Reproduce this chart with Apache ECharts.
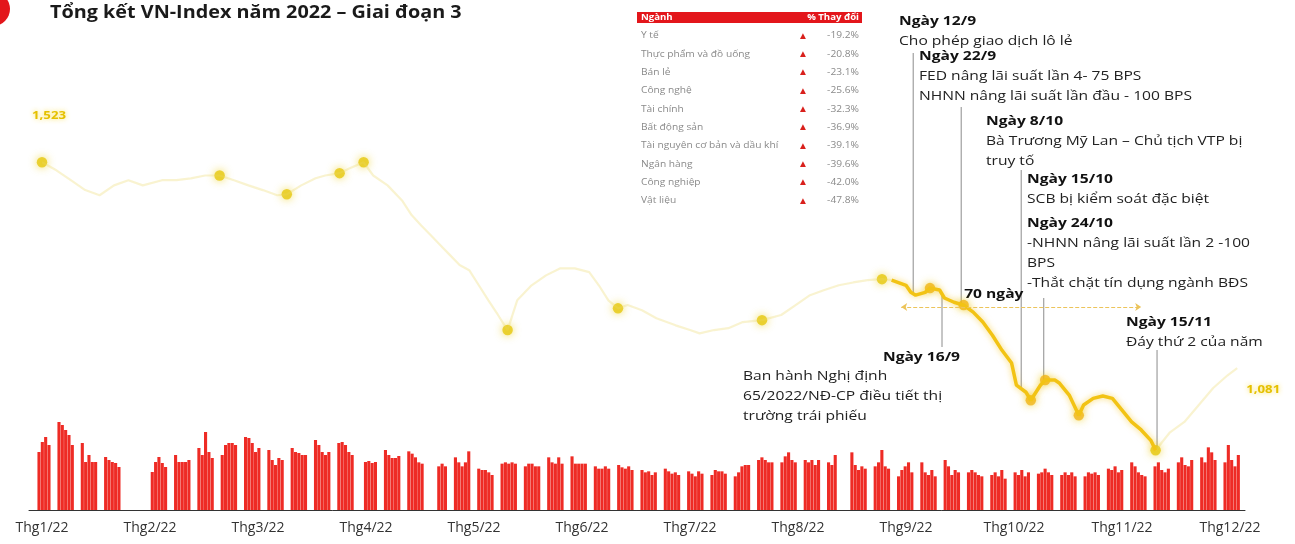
<!DOCTYPE html>
<html><head><meta charset="utf-8">
<script src="https://cdn.jsdelivr.net/npm/echarts@6/dist/echarts.min.js"></script>
<style>html,body{margin:0;padding:0;background:#fff}#chart{width:1295px;height:544px}</style>
</head><body><div id="chart"></div>
<script>
// ---------------- DATA ----------------
const titleText = 'Tổng kết VN-Index năm 2022 – Giai đoạn 3';
const monthLabels = ['Thg1/22','Thg2/22','Thg3/22','Thg4/22','Thg5/22','Thg6/22','Thg7/22','Thg8/22','Thg9/22','Thg10/22','Thg11/22','Thg12/22'];
const holidays = ['2022-01-03','2022-01-31','2022-02-01','2022-02-02','2022-02-03','2022-02-04','2022-04-11','2022-05-02','2022-05-03','2022-09-01','2022-09-02'];
// daily matched volume (million shares), one per trading day
const volumes = [
 870,1020,1095,975,
 1320,1275,1200,1125,975,
 1005,720,825,720,720,
 795,750,720,705,645,
 570,720,795,705,645,
 825,720,720,720,750,
 930,825,1170,870,780,
 825,975,1005,1005,975,
 1095,1080,1005,870,930,
 900,750,675,780,750,
 930,870,855,825,825,
 1050,975,870,825,870,
 1005,1020,975,870,825,
 720,735,705,720,
 900,825,780,780,810,
 880,845,790,715,695,
 655,695,655,
 790,715,655,715,880,
 620,600,600,565,525,
 695,715,695,715,695,
 655,695,695,655,655,
 790,715,695,790,695,
 805,695,695,695,695,
 655,620,620,655,620,
 675,640,620,655,600,
 600,565,580,525,565,
 620,580,545,565,525,
 580,545,505,580,545,
 525,600,580,580,545,
 505,565,655,675,675,
 750,790,750,715,715,
 715,805,865,750,715,
 750,715,750,675,750,
 715,675,825,
 865,675,600,655,620,
 655,715,900,655,620,
 505,600,655,715,565,
 715,565,525,600,505,
 750,655,525,600,565,
 565,600,565,525,505,
 525,565,505,600,470,
 565,525,600,505,565,
 545,565,620,565,525,
 525,565,525,565,505,
 505,565,545,565,525,
 620,600,655,565,600,
 715,655,565,525,505,
 655,715,600,565,620,
 715,790,675,655,750,
 790,715,940,865,750,
 715,975,750,655,825
];
// VN-Index path (session number, index points)
const lineSessions = [0,3,6,9,12,15,18,21,25,28,31,34,37,40,43,46,49,51,54,57,59,62,64,67,69,72,75,77,79,81,83,85,87,89,91,93,95,97,99,102,105,108,111,114,116,118,120,122,125,128,132,135,137,140,143,146,150,154,157,160,163,166,169,172,175,
 177,180,181,182,184,185,187,188,190,192,194,196,198,200,202,203,205,206,208,209,211,212,214,216,217,219,221,223,225,227,229,231,232,
 235,238,241,244,247,249];
const lineValues = [1523,1506,1485,1464,1453,1474,1485,1474,1485,1485,1489,1495,1495,1485,1474,1464,1453,1455,1474,1489,1495,1500,1510,1523,1495,1474,1442,1411,1389,1368,1347,1326,1305,1294,1262,1230,1199,1167,1230,1262,1283,1298,1298,1290,1262,1230,1213,1220,1209,1192,1177,1167,1160,1167,1171,1184,1188,1199,1220,1241,1252,1262,1268,1273,1275,
 1273,1262,1247,1241,1247,1256,1252,1235,1226,1220,1205,1184,1156,1124,1097,1050,1035,1018,1050,1061,1061,1054,1029,986,1008,1022,1027,1022,997,972,955,933,912,
 950,972,1008,1044,1071,1086];
const dotSessions = [0,37,51,62,67,97,120,150,175,185,192,206,209,216,232];
const stage3Start = 177, stage3End = 232;
const firstValueLabel = '1,523', lastValueLabel = '1,081';
const seventyDays = {start:179, end:229, level:1216, label:'70 ngày'};
const sectorHeader = ['Ngành', '% Thay đổi'];
const sectorNames = ['Y tế','Thực phẩm và đồ uống','Bán lẻ','Công nghệ','Tài chính','Bất động sản','Tài nguyên cơ bản và dầu khí','Ngân hàng','Công nghiệp','Vật liệu'];
const sectorChanges = ['-19.2%','-20.8%','-23.1%','-25.6%','-32.3%','-36.9%','-39.1%','-39.6%','-42.0%','-47.8%'];
const events = [
 {session:181.5, date:'Ngày 12/9', text:['Cho phép giao dịch lô lẻ']},
 {session:191.5, date:'Ngày 22/9', text:['FED nâng lãi suất lần 4- 75 BPS','NHNN nâng lãi suất lần đầu - 100 BPS']},
 {session:204, date:'Ngày 8/10', text:['Bà Trương Mỹ Lan – Chủ tịch VTP bị','truy tố']},
 {session:208.7, date:'Ngày 15/10', text:['SCB bị kiểm soát đặc biệt']},
 {session:208.7, date:'Ngày 24/10', text:['-NHNN nâng lãi suất lần 2 -100','BPS','-Thắt chặt tín dụng ngành BĐS']},
 {session:187.5, date:'Ngày 16/9', text:['Ban hành Nghị định','65/2022/NĐ-CP điều tiết thị','trường trái phiếu']},
 {session:232.3, date:'Ngày 15/11', text:['Đáy thứ 2 của năm']}
];
// ---------------- LAYOUT (pixels) ----------------
const FONT = "'Open Sans','Noto Sans',sans-serif";
const SX = 1.2; // the artwork's lettering is horizontally wide
const eventLayout = [
 {x:899, y:11, leaderFrom:53},
 {x:919, y:46, leaderFrom:107},
 {x:986, y:111, leaderFrom:170},
 {x:1027, y:169, leaderFrom:null},
 {x:1027, y:213, leaderFrom:298},
 {x:743, y:366, titleRight:960, titleY:347, leaderTo:347},
 {x:1126, y:312, leaderFrom:350}
];

function tradingDays(){
  const hs = new Set(holidays), out = [];
  for (let d = 0; d < 365; d++) {
    const dt = new Date(Date.UTC(2022, 0, 1 + d));
    const wd = dt.getUTCDay();
    if (wd > 0 && wd < 6 && !hs.has(dt.toISOString().slice(0,10))) out.push(d);
  }
  return out;
}
const days = tradingDays();
const barData = volumes.map((v, i) => [days[i], v]);
const pts = lineSessions.map((s, i) => [s, lineValues[i]]);
const seg = (lo, hi) => pts.filter(p => p[0] >= lo && p[0] <= hi);
const dotData = dotSessions.map(s => [s, lineValues[lineSessions.indexOf(s)]]);
function valueAt(s){
  for (let i = 0; i < lineSessions.length - 1; i++) {
    if (s >= lineSessions[i] && s <= lineSessions[i+1]) {
      const t = (s - lineSessions[i]) / (lineSessions[i+1] - lineSessions[i]);
      return lineValues[i] + t * (lineValues[i+1] - lineValues[i]);
    }
  }
  return lineValues[lineValues.length-1];
}

const chart = echarts.init(document.getElementById('chart'), null, {renderer:'canvas'});
const txt = (x, y, style) => ({type:'text', x:x, y:y, scaleX:SX, style:style});

const faded = {color:'rgba(236,214,98,0.3)', width:2.2};
const tableGraphics = [];
tableGraphics.push({type:'rect', shape:{x:637, y:12, width:225, height:11}, style:{fill:'#e3161b'}});
tableGraphics.push(txt(641, 17.5, {text:sectorHeader[0], fill:'#fff', font:'bold 8px '+FONT, textVerticalAlign:'middle'}));
tableGraphics.push(txt(859, 17.5, {text:sectorHeader[1], fill:'#fff', font:'bold 8px '+FONT, textAlign:'right', textVerticalAlign:'middle'}));
sectorNames.forEach((n, i) => {
  const y = 36 + i * 18.3;
  tableGraphics.push(txt(641, y, {text:n, fill:'#8a8a8a', font:'8.5px '+FONT, textVerticalAlign:'middle'}));
  tableGraphics.push({type:'text', x:803, y:y, style:{text:'▲', fill:'#d9201c', font:'10px '+FONT, textAlign:'center', textVerticalAlign:'middle'}});
  tableGraphics.push(txt(859, y, {text:sectorChanges[i], fill:'#8a8a8a', font:'8.5px '+FONT, textAlign:'right', textVerticalAlign:'middle'}));
});

const option = {
  animation:false,
  backgroundColor:'#fff',
  grid:[
    {left:29, right:50, top:400, bottom:34},
    {left:42, right:53, top:126, bottom:41},
    {left:42, right:65, top:505, bottom:34}
  ],
  xAxis:[
    {type:'value', gridIndex:0, min:0, max:365, axisLine:{show:true, lineStyle:{color:'#333', width:1}}, axisTick:{show:false}, axisLabel:{show:false}, splitLine:{show:false}},
    {type:'value', gridIndex:1, min:0, max:250, show:false},
    {type:'category', gridIndex:2, data:monthLabels, boundaryGap:false, axisLine:{show:false}, axisTick:{show:false},
     axisLabel:{color:'#333', fontSize:14, fontFamily:FONT, margin:11, interval:0}}
  ],
  yAxis:[
    {type:'value', gridIndex:0, min:0, max:1650, show:false},
    {type:'value', gridIndex:1, min:800, max:1600, show:false},
    {type:'value', gridIndex:2, show:false}
  ],
  series:[
    {type:'bar', xAxisIndex:0, yAxisIndex:0, data:barData, barWidth:3.1, clip:false, itemStyle:{color:'#ee2b25'}},
    {type:'line', xAxisIndex:1, yAxisIndex:1, data:seg(0, stage3Start), showSymbol:false, lineStyle:faded},
    {type:'line', xAxisIndex:1, yAxisIndex:1, data:seg(stage3End, 400), showSymbol:false, lineStyle:faded},
    {type:'line', xAxisIndex:1, yAxisIndex:1, data:seg(stage3Start, stage3End), showSymbol:false,
     lineStyle:{color:'#f2c314', width:3.5, shadowBlur:6, shadowColor:'rgba(245,190,0,0.6)'},
     markLine:{silent:true, symbol:['arrow','arrow'], symbolSize:6, label:{show:false},
       lineStyle:{color:'#ecc45a', type:'dashed', width:1},
       data:[[{coord:[seventyDays.start, seventyDays.level]},{coord:[seventyDays.end, seventyDays.level]}]]}},
    {type:'scatter', xAxisIndex:1, yAxisIndex:1, data:dotData, symbolSize:10.5,
     itemStyle:{color:(p)=> (p.data[0] > stage3Start && p.data[0] < stage3End) ? '#f1b51c' : '#e6c80e',
       shadowBlur:8, shadowColor:'rgba(235,205,20,0.9)'}}
  ],
  graphic:[
    {type:'circle', shape:{cx:-7, cy:9, r:17}, style:{fill:'#e3161b'}},
    {type:'text', x:50, y:13, scaleX:1.1, style:{text:titleText, fill:'#1a1a1a', font:'bold 18px '+FONT, textVerticalAlign:'middle'}},
    ...tableGraphics
  ]
};
chart.setOption(option);

// annotations positioned from data through the axes
const extra = [];
const toPx = (s, v) => chart.convertToPixel({gridIndex:1}, [s, v]);
events.forEach((e, i) => {
  const L = eventLayout[i];
  const p = toPx(e.session, valueAt(e.session));
  if (L.titleRight !== undefined) {
    extra.push(txt(L.titleRight, L.titleY + 10, {text:e.date, fill:'#111', font:'bold 13px '+FONT, textAlign:'right', textVerticalAlign:'middle'}));
    extra.push(txt(L.x, L.y, {text:e.text.join('\n'), fill:'#222', font:'13px '+FONT, lineHeight:20, textVerticalAlign:'top'}));
    extra.push({type:'line', shape:{x1:p[0], y1:p[1], x2:p[0], y2:L.leaderTo}, style:{stroke:'#8c8c8c', lineWidth:1}});
  } else {
    const rich = '{b|' + e.date + '}\n' + e.text.map(t => '{n|' + t + '}').join('\n');
    extra.push(txt(L.x, L.y, {text:rich, textVerticalAlign:'top',
      rich:{b:{font:'bold 13px '+FONT, fill:'#111', lineHeight:20}, n:{font:'13px '+FONT, fill:'#222', lineHeight:20}}}));
    if (L.leaderFrom !== null) extra.push({type:'line', shape:{x1:p[0], y1:L.leaderFrom, x2:p[0], y2:p[1]}, style:{stroke:'#8c8c8c', lineWidth:1}});
  }
});
const mid = toPx((seventyDays.start + seventyDays.end) / 2, seventyDays.level);
extra.push(txt(mid[0] - 57, mid[1] - 13, {text:seventyDays.label, fill:'#111', font:'bold 13px '+FONT, textVerticalAlign:'middle'}));
const p0 = toPx(lineSessions[0], lineValues[0]);
const pN = toPx(lineSessions[lineSessions.length-1], lineValues[lineValues.length-1]);
const glow = {fill:'#e5c000', font:'bold 11px '+FONT, textShadowBlur:5, textShadowColor:'rgba(250,220,60,0.9)', textAlign:'center', textVerticalAlign:'middle'};
extra.push(txt(p0[0] + 7, p0[1] - 46, Object.assign({text:firstValueLabel}, glow)));
extra.push(txt(pN[0] + 26, pN[1] + 22, Object.assign({text:lastValueLabel}, glow)));
chart.setOption({graphic: option.graphic.concat(extra)});
</script></body></html>
